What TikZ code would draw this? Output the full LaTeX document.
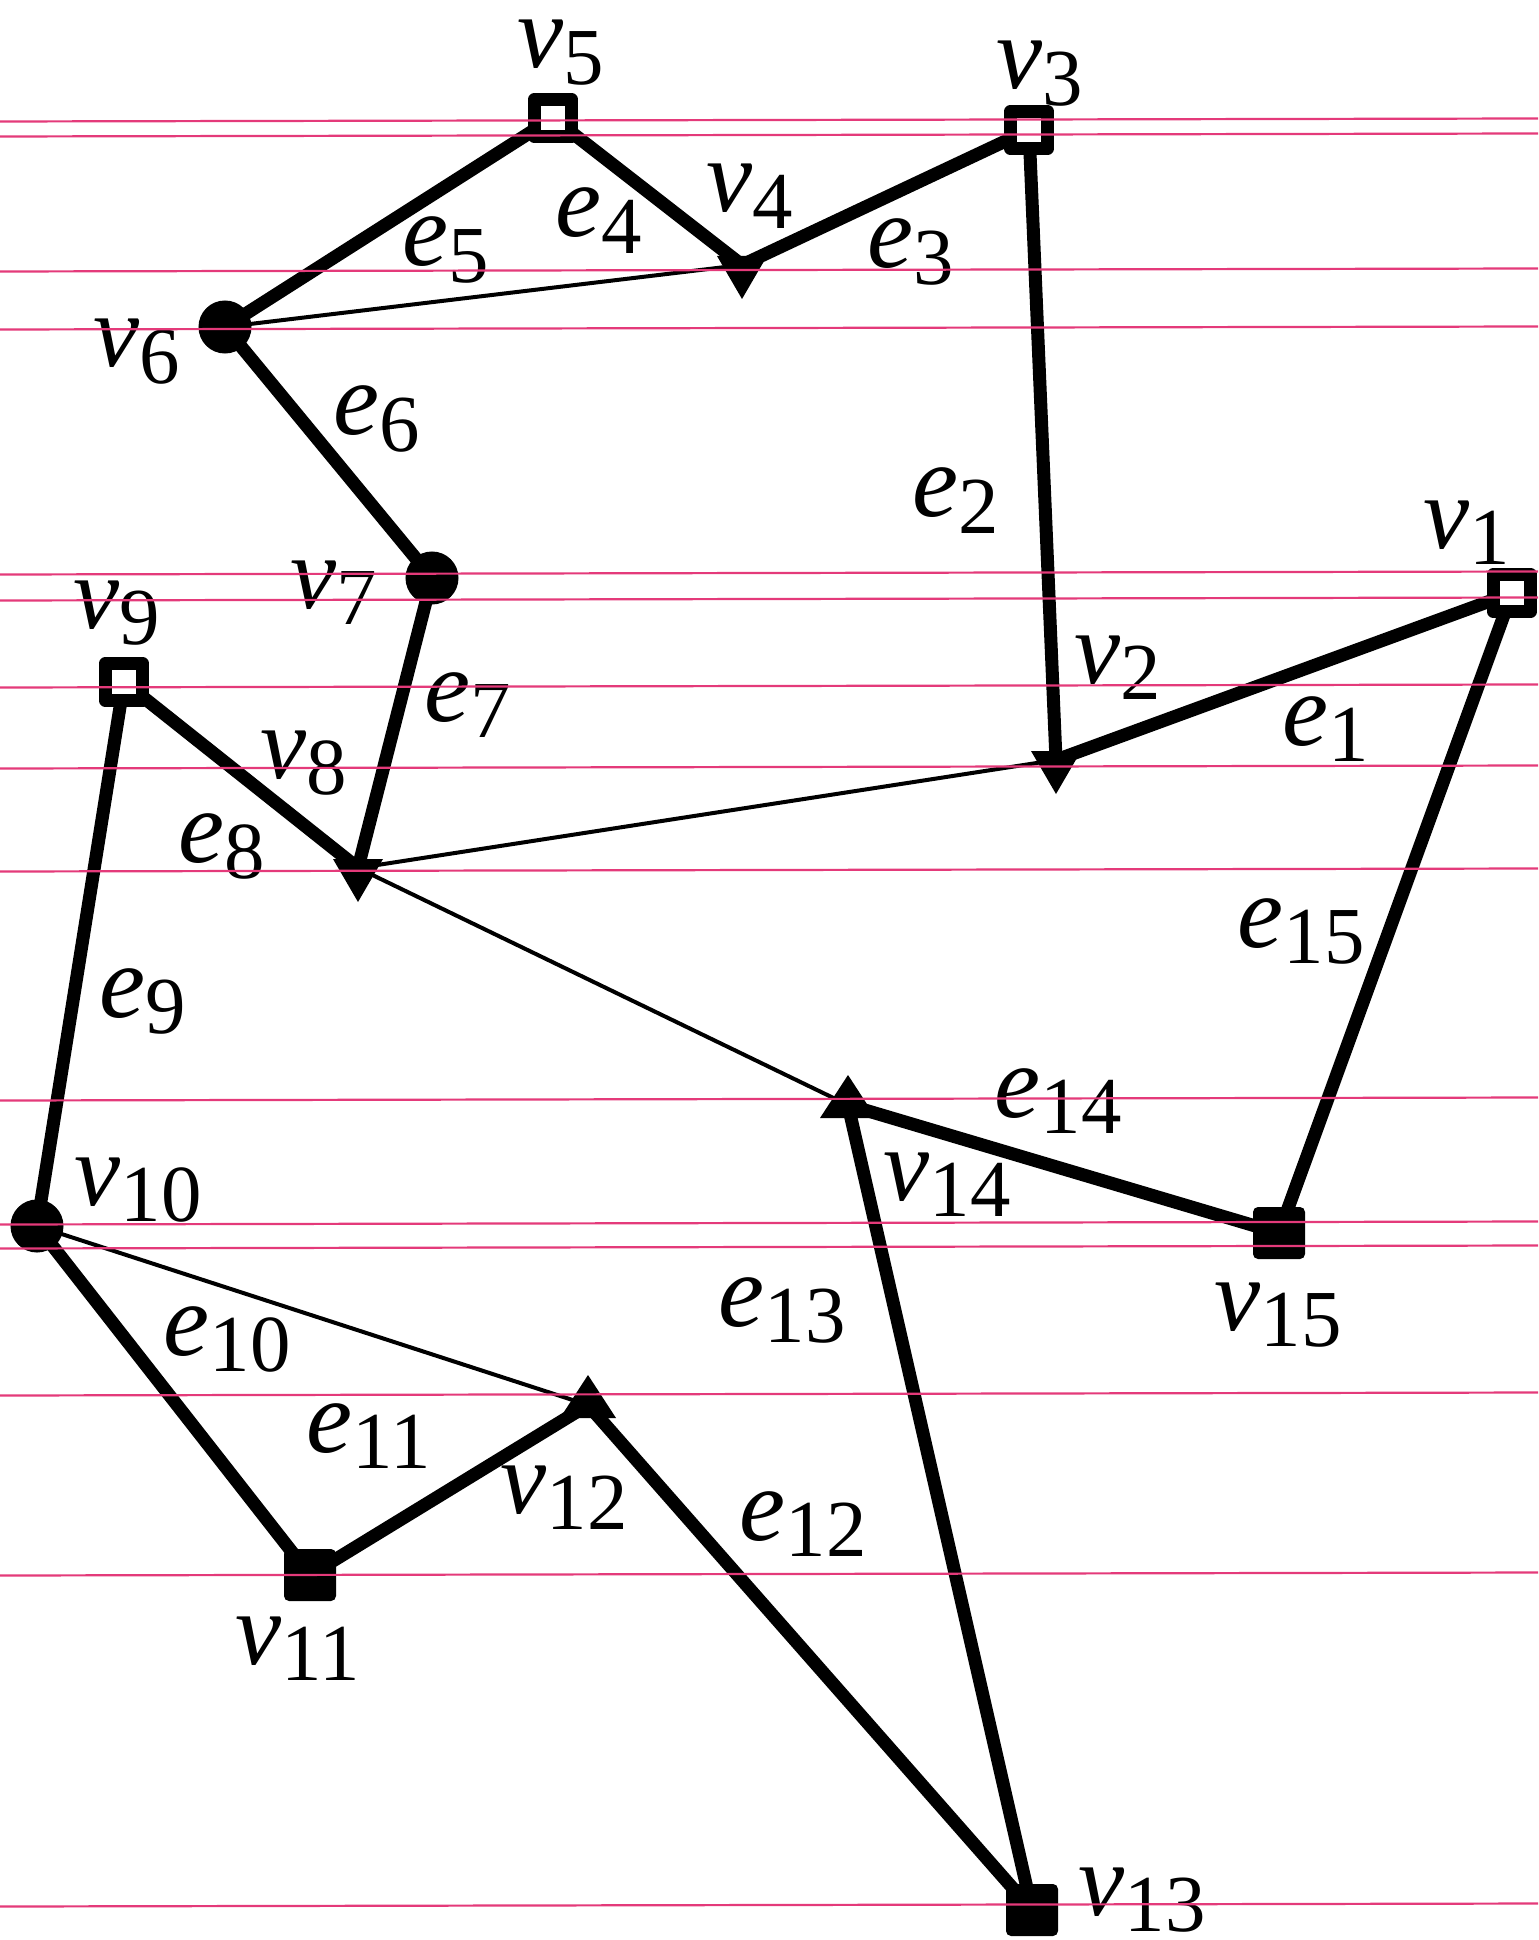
\documentclass[tikz,border=0pt]{standalone}
\usepackage{fontspec}
\setmainfont{Liberation Serif}
\usepackage{xcolor}
\usepackage{tikz}

\definecolor{guidepink}{RGB}{228,58,122}
% italic letter with upright index
\newcommand{\vlab}[2]{\textit{#1}\raisebox{-4.8pt}{\fontsize{23}{23}\selectfont #2}}

\tikzset{
  lbl/.style={font=\fontsize{29.5}{32}\selectfont, inner sep=0pt, anchor=base west},
  thickedge/.style={line width=0.13cm},
  thinedge/.style={line width=0.04cm},
  guide/.style={guidepink, line width=0.022cm},
  sqopen/.pic={\draw[line width=0.135cm, fill=white, line join=round] (-18.5,-18.5) rectangle (18.5,18.5);},
  sqfull/.pic={\fill[rounded corners=0.05cm] (-26,-26) rectangle (26,26);},
  disc/.pic={\fill (0,0) circle[radius=0.265cm];},
  tridown/.pic={\fill[line join=round] (-25,-9) -- (25,-9) -- (0,34) -- cycle;},
  triup/.pic={\fill[line join=round] (-28,13) -- (28,13) -- (0,-30) -- cycle;}
}

\begin{document}
\begin{tikzpicture}[x=0.01cm, y=-0.01cm]
  \useasboundingbox (0,0) rectangle (1538,1940);

  % vertices
  \coordinate (v1) at (1512,593);
  \coordinate (v2) at (1056,760);
  \coordinate (v3) at (1029,130);
  \coordinate (v4) at (742,265);
  \coordinate (v5) at (553,118);
  \coordinate (v6) at (225,327);
  \coordinate (v7) at (432,578);
  \coordinate (v8) at (358,868);
  \coordinate (v9) at (124,682);
  \coordinate (v10) at (37,1226);
  \coordinate (v11) at (310,1575);
  \coordinate (v12) at (588,1405);
  \coordinate (v13) at (1032,1910);
  \coordinate (v14) at (848,1105);
  \coordinate (v15) at (1279,1233);

  % chords
  \draw[thinedge] (v6) -- (v4);
  \draw[thinedge] (v8) -- (v2);
  \draw[thinedge] (v8) -- (v14);
  \draw[thinedge] (v10) -- (v12);

  % cycle e1 ... e15
  \foreach \a/\b in {v1/v2, v2/v3, v3/v4, v4/v5, v5/v6, v6/v7, v7/v8, v8/v9,
                     v9/v10, v10/v11, v11/v12, v12/v13, v13/v14, v14/v15, v15/v1}
    \draw[thickedge] (\a) -- (\b);

  % vertex marks
  \foreach \v in {v1, v3, v5, v9} \pic at (\v) {sqopen};
  \foreach \v in {v11, v13, v15} \pic at (\v) {sqfull};
  \foreach \v in {v6, v7, v10} \pic at (\v) {disc};
  \foreach \v in {v2, v4, v8} \pic at (\v) {tridown};
  \foreach \v in {v12, v14} \pic at (\v) {triup};

  % vertex labels
  \node[lbl] (lv1) at (1423,548) {\vlab{v}{1}};
  \node[lbl] (lv2) at (1074,683) {\vlab{v}{2}};
  \node[lbl] (lv3) at (996,89) {\vlab{v}{3}};
  \node[lbl] (lv4) at (706,212) {\vlab{v}{4}};
  \node[lbl] (lv5) at (517,68) {\vlab{v}{5}};
  \node[lbl] (lv6) at (93,367) {\vlab{v}{6}};
  \node[lbl] (lv7) at (290,608) {\vlab{v}{7}};
  \node[lbl] (lv8) at (260,778) {\vlab{v}{8}};
  \node[lbl] (lv9) at (73,628) {\vlab{v}{9}};
  \node[lbl] (lv10) at (74,1205) {\vlab{v}{10}};
  \node[lbl] (lv11) at (235,1664) {\vlab{v}{11}};
  \node[lbl] (lv12) at (500,1513) {\vlab{v}{12}};
  \node[lbl] (lv13) at (1078,1915) {\vlab{v}{13}};
  \node[lbl] (lv14) at (883,1200) {\vlab{v}{14}};
  \node[lbl] (lv15) at (1214,1330) {\vlab{v}{15}};

  % edge labels
  \node[lbl] (le1) at (1282,745) {\vlab{e}{1}};
  \node[lbl] (le2) at (912,517) {\vlab{e}{2}};
  \node[lbl] (le3) at (867,268) {\vlab{e}{3}};
  \node[lbl] (le4) at (555,237) {\vlab{e}{4}};
  \node[lbl] (le5) at (402,266) {\vlab{e}{5}};
  \node[lbl] (le6) at (333,435) {\vlab{e}{6}};
  \node[lbl] (le7) at (424,721) {\vlab{e}{7}};
  \node[lbl] (le8) at (178,862) {\vlab{e}{8}};
  \node[lbl] (le9) at (99,1017) {\vlab{e}{9}};
  \node[lbl] (le10) at (163,1355) {\vlab{e}{10}};
  \node[lbl] (le11) at (306,1452) {\vlab{e}{11}};
  \node[lbl] (le12) at (739,1540) {\vlab{e}{12}};
  \node[lbl] (le13) at (718,1326) {\vlab{e}{13}};
  \node[lbl] (le14) at (994,1117) {\vlab{e}{14}};
  \node[lbl] (le15) at (1237,947) {\vlab{e}{15}};

  % guide lines on top
  \foreach \yy in {120,135,270,328,573,599,686,767,870,1099,1223,1247,1394,1574,1905}
    \draw[guide] (0,\yy+1.5) -- (1538,\yy-1.5);
\end{tikzpicture}
\end{document}
